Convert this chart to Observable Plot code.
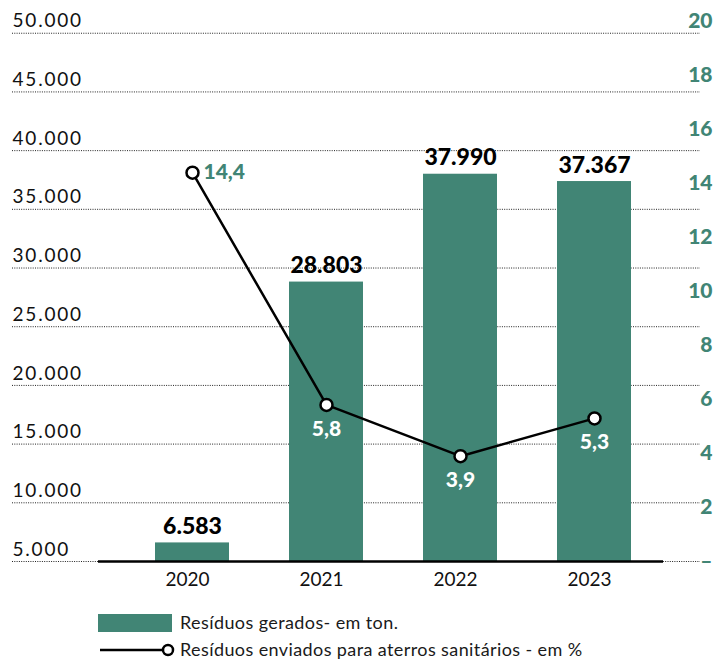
<!DOCTYPE html>
<html><head><meta charset="utf-8">
<script src="https://cdn.jsdelivr.net/npm/d3@7"></script>
<script src="https://cdn.jsdelivr.net/npm/@observablehq/plot@0.6"></script>
<style>
body{margin:0;background:#fff;font-family:Lato,"Open Sans",sans-serif;}
#legend{position:relative;height:60px;font-size:18px;letter-spacing:0.4px;color:#1a1a1a;}
#legend .row{position:absolute;left:0;display:flex;align-items:center;height:20px;}
#legend .txt{position:absolute;left:180px;white-space:nowrap;}
.lefttick text{letter-spacing:1.8px;}
</style></head><body>
<div id="chart"></div>
<div id="legend">
  <div class="row" style="top:13px;left:98px"><div style="width:74px;height:18px;background:#418575"></div></div>
  <div class="txt" style="top:11px">Resíduos gerados- em ton.</div>
  <svg style="position:absolute;left:96px;top:40px" width="84" height="20"><line x1="4" y1="10" x2="66" y2="10" stroke="#000" stroke-width="2.5"/><circle cx="72" cy="10" r="5" fill="#fff" stroke="#000" stroke-width="2.5"/></svg>
  <div class="txt" style="top:38px">Resíduos enviados para aterros sanitários - em %</div>
</div>
<script>
const years = ["2020", "2021", "2022", "2023"];
const tons = [6583, 28803, 37990, 37367];
const tonLabels = ["6.583", "28.803", "37.990", "37.367"];
const pct = [14.4, 5.8, 3.9, 5.3];
const pctLabels = ["14,4", "5,8", "3,9", "5,3"];
const leftTicks = [5000, 10000, 15000, 20000, 25000, 30000, 35000, 40000, 45000, 50000];
const rightTicks = [0, 2, 4, 6, 8, 10, 12, 14, 16, 18, 20];

const green = "#418575";
// secondary (percent) axis mapped onto the primary scale
const toLeft = v => 5000 + v * 2300;
const fromLeft = d => Math.round((d - 5000) / 2300);
const fmtLeft = d3.formatLocale({thousands: ".", decimal: ",", grouping: [3]}).format(",");

const data = years.map((year, i) => ({
  year, tons: tons[i], tonLabel: tonLabels[i], pct: pct[i], pctLeft: toLeft(pct[i]), pctLabel: pctLabels[i], first: i === 0
}));

const chart = Plot.plot({
  width: 715,
  height: 600,
  marginTop: 21,
  marginBottom: 39,
  marginLeft: 12,
  marginRight: 15,
  style: {fontFamily: "Lato, 'Open Sans', sans-serif", background: "#fff"},
  x: {type: "band", domain: years, paddingInner: 0.448, paddingOuter: 0.791, align: 0.675},
  y: {domain: [5000, 51000]},
  marks: [
    Plot.gridY(leftTicks, {stroke: "#222", strokeOpacity: 1, strokeDasharray: "1,1.3"}),
    Plot.barY(data, {x: "year", y1: 5000, y2: "tons", fill: green}),
    Plot.ruleY([5000], {stroke: "#000", strokeWidth: 2.5, insetLeft: 86, insetRight: 37}),
    Plot.text(data, {x: "year", y: "tons", text: "tonLabel", lineAnchor: "bottom", dy: -9, fontSize: 23, fontWeight: 900, fill: "#000"}),
    Plot.line(data, {x: "year", y: "pctLeft", stroke: "#000", strokeWidth: 2.5}),
    Plot.dot(data, {x: "year", y: "pctLeft", r: 6, fill: "#fff", stroke: "#000", strokeWidth: 2.5}),
    Plot.text(data.filter(d => d.first), {x: "year", y: "pctLeft", text: "pctLabel", textAnchor: "start", dx: 11, fontSize: 21, fontWeight: 900, fill: green}),
    Plot.text(data.filter(d => !d.first), {x: "year", y: "pctLeft", text: "pctLabel", dy: 24, fontSize: 21, fontWeight: 900, fill: "#fff"}),
    Plot.axisY(leftTicks, {anchor: "left", tickSize: 0, tickPadding: 0, textAnchor: "start", dy: -12, tickFormat: fmtLeft, fontSize: 19, color: "#111", label: null, className: "lefttick"}),
    Plot.axisY(rightTicks.map(toLeft), {anchor: "right", tickSize: 0, tickPadding: 12, textAnchor: "end", tickFormat: d => fromLeft(d) === 0 ? "–" : String(fromLeft(d)), fontSize: 21, fontWeight: 900, color: green, label: null}),
    Plot.axisX({tickSize: 0, tickPadding: 11, dx: -5, fontSize: 19, color: "#111", label: null})
  ]
});
document.getElementById("chart").appendChild(chart);
</script>
</body></html>
